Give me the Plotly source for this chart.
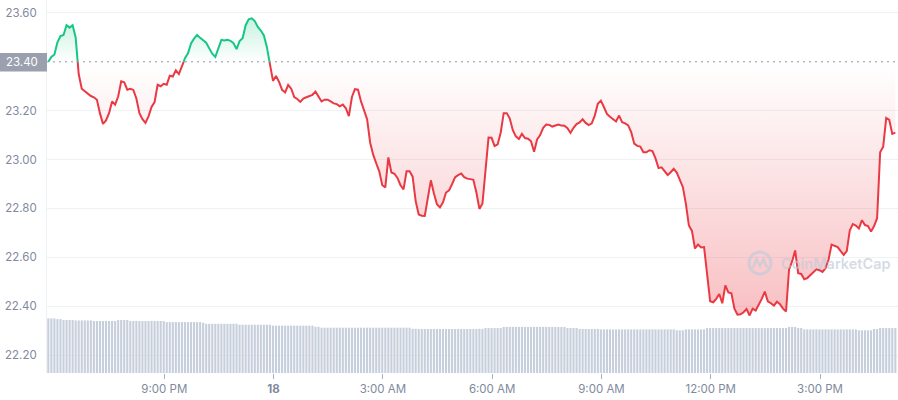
import pandas as pd
import plotly.graph_objects as go

BASE = 23.40
START = "2022-12-17 17:49"

price = [
    23.40, 23.42, 23.43, 23.48, 23.505, 23.51, 23.55, 23.54, 23.55, 23.50,
    23.35, 23.29, 23.28, 23.27, 23.26, 23.255, 23.245, 23.19, 23.146, 23.16,
    23.19, 23.238, 23.225, 23.258, 23.32, 23.316, 23.286, 23.29, 23.285, 23.25,
    23.19, 23.165, 23.15, 23.177, 23.215, 23.235, 23.306, 23.30, 23.31, 23.306,
    23.343, 23.34, 23.365, 23.35, 23.38, 23.415, 23.435, 23.475, 23.495, 23.51,
    23.498, 23.488, 23.478, 23.455, 23.433, 23.42, 23.455, 23.49, 23.487, 23.49,
    23.486, 23.476, 23.452, 23.485, 23.497, 23.55, 23.574, 23.578, 23.567, 23.543,
    23.528, 23.508, 23.46, 23.39, 23.322, 23.342, 23.318, 23.285, 23.275, 23.305,
    23.29, 23.256, 23.248, 23.236, 23.25, 23.255, 23.26, 23.265, 23.278, 23.256,
    23.238, 23.245, 23.245, 23.238, 23.23, 23.227, 23.218, 23.225, 23.21, 23.178,
    23.256, 23.288, 23.286, 23.238, 23.198, 23.165, 23.07, 23.02, 22.985, 22.952,
    22.895, 22.886, 23.009, 22.947, 22.942, 22.925, 22.895, 22.878, 22.952, 22.952,
    22.93, 22.83, 22.775, 22.77, 22.769, 22.845, 22.915, 22.862, 22.817, 22.804,
    22.825, 22.865, 22.874, 22.9, 22.928, 22.936, 22.943, 22.928, 22.922, 22.92,
    22.917, 22.865, 22.798, 22.82, 22.95, 23.09, 23.089, 23.055, 23.062, 23.11,
    23.19, 23.19, 23.168, 23.12, 23.095, 23.084, 23.105, 23.088, 23.085, 23.075,
    23.032, 23.082, 23.1, 23.13, 23.143, 23.142, 23.135, 23.14, 23.143, 23.139,
    23.138, 23.128, 23.109, 23.13, 23.145, 23.152, 23.165, 23.15, 23.141, 23.148,
    23.18, 23.228, 23.241, 23.215, 23.187, 23.175, 23.167, 23.156, 23.18, 23.153,
    23.148, 23.14, 23.112, 23.065, 23.056, 23.053, 23.03, 23.03, 23.038, 23.035,
    23.005, 22.965, 22.968, 22.952, 22.937, 22.948, 22.962, 22.947, 22.915, 22.888,
    22.82, 22.73, 22.708, 22.636, 22.652, 22.64, 22.642, 22.52, 22.42, 22.416,
    22.43, 22.45, 22.412, 22.485, 22.456, 22.453, 22.39, 22.365, 22.367, 22.375,
    22.388, 22.362, 22.39, 22.382, 22.405, 22.43, 22.46, 22.42, 22.412, 22.402,
    22.418, 22.408, 22.39, 22.378, 22.551, 22.583, 22.628, 22.535, 22.532, 22.51,
    22.515, 22.528, 22.542, 22.551, 22.547, 22.54, 22.555, 22.59, 22.652, 22.648,
    22.642, 22.625, 22.61, 22.625, 22.71, 22.736, 22.73, 22.718, 22.752, 22.732,
    22.728, 22.705, 22.728, 22.76, 23.03, 23.053, 23.17, 23.162, 23.105, 23.11,
]

volume_m = [
    293, 293, 293, 289, 289, 284, 284, 284, 284, 282,
    282, 282, 282, 282, 282, 279, 279, 279, 279, 279,
    279, 279, 279, 284, 284, 284, 284, 279, 279, 279,
    279, 279, 279, 279, 279, 279, 279, 279, 279, 273,
    273, 273, 273, 273, 273, 273, 273, 273, 273, 273,
    273, 270, 264, 264, 264, 264, 264, 264, 264, 264,
    264, 264, 264, 259, 259, 259, 259, 259, 259, 259,
    259, 259, 259, 259, 254, 254, 254, 254, 254, 254,
    254, 254, 254, 254, 254, 254, 254, 254, 248, 248,
    243, 243, 243, 243, 243, 243, 243, 243, 243, 243,
    243, 243, 243, 243, 243, 243, 243, 243, 243, 243,
    243, 243, 243, 243, 243, 243, 243, 243, 243, 243,
    237, 237, 236, 236, 236, 236, 236, 236, 236, 236,
    236, 236, 236, 236, 236, 236, 236, 236, 236, 236,
    236, 236, 237, 237, 241, 241, 241, 241, 241, 241,
    247, 247, 247, 247, 247, 247, 247, 247, 247, 247,
    247, 247, 247, 247, 247, 247, 247, 247, 247, 247,
    247, 241, 241, 241, 241, 236, 236, 236, 236, 236,
    236, 236, 234, 234, 234, 234, 234, 234, 234, 234,
    234, 234, 234, 234, 234, 234, 234, 234, 234, 234,
    234, 234, 234, 234, 234, 234, 234, 229, 229, 229,
    234, 234, 234, 234, 234, 234, 234, 241, 241, 241,
    241, 241, 241, 241, 241, 241, 241, 241, 241, 241,
    241, 241, 241, 241, 241, 241, 241, 241, 241, 241,
    241, 241, 241, 241, 247, 247, 247, 241, 241, 234,
    234, 234, 234, 234, 234, 234, 234, 234, 234, 234,
    234, 234, 234, 234, 234, 234, 234, 229, 229, 229,
    229, 229, 236, 236, 241, 241, 241, 241, 241, 241,
]

y_ticks = [22.20, 22.40, 22.60, 22.80, 23.00, 23.20, 23.60]
y_tick_labels = ["22.20", "22.40", "22.60", "22.80", "23.00", "23.20", "23.60"]
x_ticks = ["2022-12-17 21:00", "2022-12-18 00:00", "2022-12-18 03:00", "2022-12-18 06:00",
           "2022-12-18 09:00", "2022-12-18 12:00", "2022-12-18 15:00"]
x_tick_labels = ["9:00 PM", "<b>18</b>", "3:00 AM", "6:00 AM", "9:00 AM", "12:00 PM", "3:00 PM"]

GREEN = "#16c784"
RED = "#ea3943"

times = pd.date_range(START, periods=len(price), freq="5min")

# split the line where it crosses the reference price
aug_t, aug_p = [], []
for i in range(len(price)):
    if i > 0:
        a, b = price[i - 1], price[i]
        if (a - BASE) * (b - BASE) < 0:
            f = (BASE - a) / (b - a)
            aug_t.append(times[i - 1] + (times[i] - times[i - 1]) * f)
            aug_p.append(BASE)
    aug_t.append(times[i])
    aug_p.append(price[i])

up = [max(p, BASE) for p in aug_p]
dn = [min(p, BASE) for p in aug_p]
green_line = [p if p >= BASE else None for p in aug_p]
red_line = [p if p <= BASE else None for p in aug_p]
base_line = [BASE] * len(aug_p)

fig = go.Figure()

fig.add_trace(go.Scatter(x=aug_t, y=base_line, mode="lines", line=dict(width=0), hoverinfo="skip"))
fig.add_trace(go.Scatter(
    x=aug_t, y=up, mode="lines", line=dict(width=0), fill="tonexty",
    fillgradient=dict(type="vertical", start=BASE, stop=max(price),
                      colorscale=[[0, "rgba(22,199,132,0)"], [1, "rgba(22,199,132,0.24)"]]),
    hoverinfo="skip"))
fig.add_trace(go.Scatter(x=aug_t, y=base_line, mode="lines", line=dict(width=0), hoverinfo="skip"))
fig.add_trace(go.Scatter(
    x=aug_t, y=dn, mode="lines", line=dict(width=0), fill="tonexty",
    fillgradient=dict(type="vertical", start=min(price), stop=BASE,
                      colorscale=[[0, "rgba(234,57,67,0.32)"], [1, "rgba(234,57,67,0)"]]),
    hoverinfo="skip"))
fig.add_trace(go.Scatter(x=aug_t, y=red_line, mode="lines", line=dict(color=RED, width=2)))
fig.add_trace(go.Scatter(x=aug_t, y=green_line, mode="lines", line=dict(color=GREEN, width=2)))

fig.add_trace(go.Bar(x=times, y=volume_m, yaxis="y2", marker=dict(color="#c8cfdc", line=dict(width=0))))

t0 = times[0] - pd.Timedelta(minutes=2.2)
t1 = times[-1] + pd.Timedelta(minutes=4.4)

fig.update_layout(
    width=898, height=400,
    margin=dict(l=47, r=0, t=0, b=27),
    paper_bgcolor="white", plot_bgcolor="white",
    showlegend=False, hovermode=False, bargap=0.3,
    font=dict(family="Inter, sans-serif", size=11.5, color="#808a9d"),
    xaxis=dict(type="date", range=[t0, t1], tickvals=x_ticks, ticktext=x_tick_labels,
               ticks="outside", ticklen=5, tickcolor="#a6b0c3", showgrid=False,
               showline=False, zeroline=False, tickfont=dict(size=11.5, color="#808a9d")),
    yaxis=dict(range=[22.1265, 23.653], tickvals=y_ticks, ticktext=y_tick_labels,
               showgrid=True, gridcolor="#eff2f5", gridwidth=1, zeroline=False,
               showline=True, linecolor="#eff2f5", ticks="", ticklabelstandoff=7,
               tickfont=dict(size=11.5, color="#808a9d")),
    yaxis2=dict(overlaying="y", range=[0, 2000], visible=False),
)

# dotted reference line
fig.add_shape(type="line", xref="paper", x0=0, x1=1, yref="y", y0=BASE, y1=BASE,
              line=dict(color="#8f96a6", width=1, dash="2px,4px"), layer="above")
# reference price label box
fig.add_shape(type="rect", xref="paper", x0=-47 / 851, x1=0, yref="paper",
              y0=(373 - 71.5) / 373, y1=(373 - 53) / 373,
              fillcolor="#9aa0ae", line=dict(width=0), layer="above")
fig.add_annotation(xref="paper", x=0, xanchor="right", xshift=-7, yref="y", y=BASE,
                   text="23.40", showarrow=False, font=dict(color="white", size=11.5))

# watermark
px = lambda v: (v - 47) / 851
py = lambda v: (373 - v) / 373
WM = "rgba(195,203,217,0.7)"
fig.add_shape(type="circle", xref="paper", yref="paper",
              x0=px(749), x1=px(771), y0=py(274), y1=py(252),
              line=dict(color=WM, width=3), layer="above")
fig.add_shape(type="path", xref="paper", yref="paper",
              path=f"M {px(753)},{py(268)} L {px(756.5)},{py(259)} L {px(760)},{py(266)} L {px(763.5)},{py(259)} Q {px(766)},{py(268)} {px(768)},{py(266)}",
              line=dict(color=WM, width=2.5), layer="above")
fig.add_annotation(xref="paper", yref="paper", x=px(779), xanchor="left", y=py(263),
                   yanchor="middle", text="CoinMarketCap", showarrow=False,
                   font=dict(size=14.5, color=WM, weight=600))

fig.write_html("out.html", post_script="document.body.style.margin='0';",
               config={"displayModeBar": False})
